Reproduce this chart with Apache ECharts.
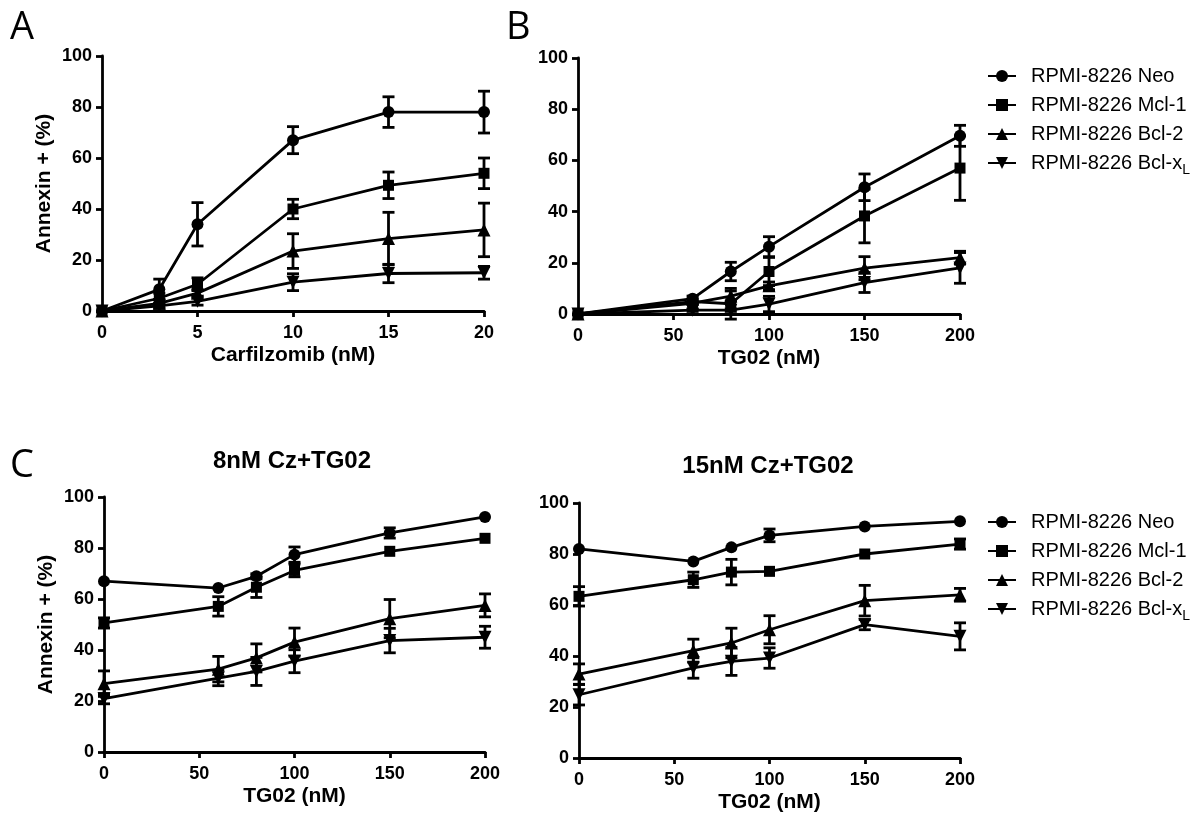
<!DOCTYPE html>
<html>
<head>
<meta charset="utf-8">
<title>Annexin V staining</title>
<script src="https://cdn.jsdelivr.net/npm/echarts@6/dist/echarts.min.js"></script>
<style>
  html, body { margin: 0; padding: 0; background: #fff; }
  #chart { width: 1197px; height: 817px; }
</style>
</head>
<body>
<div id="chart"></div>
<script>
// Series names, shared by all four panels.
const lineNames = ['RPMI-8226 Neo', 'RPMI-8226 Mcl-1', 'RPMI-8226 Bcl-2', 'RPMI-8226 Bcl-xL'];

// Panel A: Carfilzomib alone.
const doseA = [0, 3, 5, 10, 15, 20];
const neoA = [0, 8.5, 34, 67, 78, 78];
const neoAErr = [0, 4, 8.5, 5.3, 6, 8.2];
const mclA = [0, 5, 10.5, 40, 49.3, 54];
const mclAErr = [0, 2, 2.5, 3.8, 5.2, 6];
const bcl2A = [0, 3, 7, 23.5, 28.4, 31.8];
const bcl2AErr = [0, 1.5, 1.5, 6.8, 10.3, 10.5];
const bclxA = [0, 2, 3.8, 11.3, 14.7, 15];
const bclxAErr = [0, 1, 1.5, 3.3, 3.6, 2.5];

// Panel B: TG02 alone.
const doseB = [0, 60, 80, 100, 150, 200];
const neoB = [0, 6, 16.6, 26.3, 49.5, 69.6];
const neoBErr = [0, 1, 3.6, 3.9, 5.2, 4.1];
const mclB = [0, 4.8, 4, 16.6, 38.3, 57];
const mclBErr = [0, 1, 6, 5.5, 10.5, 12.6];
const bcl2B = [0, 4.2, 7, 11, 17.9, 22];
const bcl2BErr = [0, 0.5, 2, 1.5, 4.5, 2.5];
const bclxB = [0, 1.5, 1.5, 3.9, 12.3, 18];
const bclxBErr = [0, 0.5, 0.5, 3, 3.9, 6];

// Panel C: 8 nM and 15 nM carfilzomib plus TG02.
const doseC = [0, 60, 80, 100, 150, 200];
const neoC1 = [67, 64.3, 68.9, 77.4, 85.9, 92.2];
const neoC1Err = [0, 0, 1, 3, 2, 0];
const mclC1 = [50.6, 57.1, 64.6, 71.2, 78.7, 83.8];
const mclC1Err = [2, 3.8, 4, 2.5, 0, 0];
const bcl2C1 = [26.8, 32.5, 36.9, 43.1, 52.3, 57.5];
const bcl2C1Err = [5, 5, 5.5, 5.5, 7.5, 4.5];
const bclxC1 = [20.9, 29, 31.6, 35.6, 43.7, 45];
const bclxC1Err = [2, 3, 5.5, 4.5, 4.8, 4.3];

const neoC2 = [82, 77.1, 82.6, 87.3, 90.8, 92.8];
const neoC2Err = [0, 0, 0, 2.5, 0, 0];
const mclC2 = [63.4, 69.9, 72.9, 73.2, 80, 83.9];
const mclC2Err = [3.8, 3, 5, 0, 0, 2];
const bcl2C2 = [32.9, 42.1, 45.1, 50.3, 61.7, 64];
const bcl2C2Err = [4, 4.5, 5.8, 5.5, 6, 2.5];
const bclxC2 = [24.8, 35.3, 37.9, 39.2, 52.3, 47.7];
const bclxC2Err = [4, 4, 5.5, 4, 2, 5.3];

const FONT = '"Liberation Sans", Arial, sans-serif';
const symbols = ['circle', 'rect', 'triangle', 'triangle'];
const rotations = [0, 0, 0, 180];
const sizes = [12, 11, 13, 13];

const panels = [
  { dose: doseA, values: [neoA, mclA, bcl2A, bclxA], errs: [neoAErr, mclAErr, bcl2AErr, bclxAErr],
    grid: { left: 102, top: 56, width: 382, height: 255 }, xMax: 20, xStep: 5,
    xName: 'Carfilzomib (nM)', yName: 'Annexin + (%)' },
  { dose: doseB, values: [neoB, mclB, bcl2B, bclxB], errs: [neoBErr, mclBErr, bcl2BErr, bclxBErr],
    grid: { left: 578, top: 58, width: 382, height: 256 }, xMax: 200, xStep: 50,
    xName: 'TG02 (nM)', yName: '' },
  { dose: doseC, values: [neoC1, mclC1, bcl2C1, bclxC1], errs: [neoC1Err, mclC1Err, bcl2C1Err, bclxC1Err],
    grid: { left: 104, top: 497, width: 381, height: 255 }, xMax: 200, xStep: 50,
    xName: 'TG02 (nM)', yName: 'Annexin + (%)' },
  { dose: doseC, values: [neoC2, mclC2, bcl2C2, bclxC2], errs: [neoC2Err, mclC2Err, bcl2C2Err, bclxC2Err],
    grid: { left: 579, top: 503, width: 381, height: 255 }, xMax: 200, xStep: 50,
    xName: 'TG02 (nM)', yName: '' }
];

const axisLine = { lineStyle: { color: '#000', width: 2.8 } };
const axisTick = { length: 6, lineStyle: { color: '#000', width: 2.8 } };

// Vertical bar with caps, from [x, low, high].
function renderErrorBar(params, api) {
  const x = api.value(0);
  const top = api.coord([x, api.value(2)]);
  const bot = api.coord([x, api.value(1)]);
  const w = 6;
  const style = { stroke: '#000', lineWidth: 2.8 };
  return {
    type: 'group',
    children: [
      { type: 'line', shape: { x1: top[0], y1: top[1], x2: bot[0], y2: bot[1] }, style },
      { type: 'line', shape: { x1: top[0] - w, y1: top[1], x2: top[0] + w, y2: top[1] }, style },
      { type: 'line', shape: { x1: bot[0] - w, y1: bot[1], x2: bot[0] + w, y2: bot[1] }, style }
    ]
  };
}

const grids = [];
const xAxes = [];
const yAxes = [];
const series = [];

panels.forEach((p, i) => {
  grids.push(Object.assign({ containLabel: false }, p.grid));
  xAxes.push({
    type: 'value', gridIndex: i, min: 0, max: p.xMax, interval: p.xStep,
    name: p.xName, nameLocation: 'middle', nameGap: 34,
    nameTextStyle: { color: '#000', fontSize: 21, fontWeight: 'bold', fontFamily: FONT },
    axisLine, axisTick, splitLine: { show: false },
    axisLabel: { color: '#000', fontSize: 18, fontWeight: 'bold', fontFamily: FONT, margin: 13 }
  });
  yAxes.push({
    type: 'value', gridIndex: i, min: 0, max: 100, interval: 20,
    name: p.yName, nameLocation: 'middle', nameGap: 47,
    nameTextStyle: { color: '#000', fontSize: 21, fontWeight: 'bold', fontFamily: FONT },
    axisLine: Object.assign({ show: true }, axisLine), axisTick: Object.assign({ show: true }, axisTick),
    splitLine: { show: false },
    axisLabel: { color: '#000', fontSize: 18, fontWeight: 'bold', fontFamily: FONT, margin: 10 }
  });
  p.values.forEach((vals, k) => {
    series.push({
      type: 'line', name: lineNames[k], xAxisIndex: i, yAxisIndex: i,
      data: p.dose.map((d, j) => [d, vals[j]]),
      symbol: symbols[k], symbolRotate: rotations[k], symbolSize: sizes[k],
      itemStyle: { color: '#000' }, lineStyle: { color: '#000', width: 2.8 },
      emphasis: { disabled: true }, z: 3
    });
    const errs = p.errs[k];
    series.push({
      type: 'custom', name: 'err' + i + k, xAxisIndex: i, yAxisIndex: i,
      renderItem: renderErrorBar,
      encode: { x: 0, y: [1, 2] },
      data: p.dose.map((d, j) => [d, vals[j] - errs[j], vals[j] + errs[j], errs[j]])
        .filter(row => row[3] > 0),
      z: 2, silent: true
    });
  });
});

function legendAt(top) {
  return {
    orient: 'vertical', left: 987, top: top, padding: 0,
    itemWidth: 28, itemHeight: 15, itemGap: 9,
    data: lineNames, selectedMode: false,
    formatter: name => name.endsWith('xL') ? name.slice(0, -1) + '{sub|L}' : name,
    textStyle: {
      color: '#000', fontSize: 20, fontFamily: FONT, padding: [0, 0, 0, 10],
      rich: { sub: { fontSize: 14, fontFamily: FONT, color: '#000', verticalAlign: 'top', padding: [14, 0, 0, 0] } }
    }
  };
}

function label(text, x, y, font, align) {
  return {
    type: 'text', x, y,
    style: { text, font, fill: '#000', align: align || 'left', verticalAlign: 'middle' }
  };
}

const chart = echarts.init(document.getElementById('chart'));
chart.setOption({
  animation: false,
  backgroundColor: '#fff',
  grid: grids,
  xAxis: xAxes,
  yAxis: yAxes,
  series,
  legend: [legendAt(66), legendAt(512)],
  graphic: [
    label('A', 10, 28, '38px "Open Sans", sans-serif'),
    label('B', 506, 28, '38px "Open Sans", sans-serif'),
    label('C', 10, 466, '38px "Open Sans", sans-serif'),
    label('8nM Cz+TG02', 292, 461, 'bold 24px ' + FONT, 'center'),
    label('15nM Cz+TG02', 768, 466, 'bold 24px ' + FONT, 'center')
  ]
});
</script>
</body>
</html>
